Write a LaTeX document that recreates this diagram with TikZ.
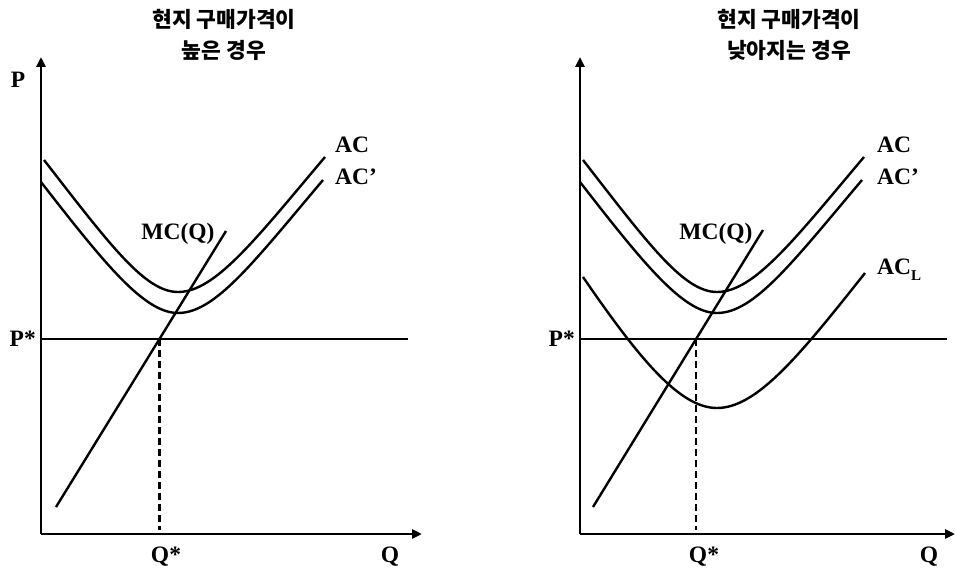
\documentclass[tikz,border=0pt]{standalone}
\usepackage{fontspec}
\setmainfont{Liberation Serif}
\newfontfamily\kr{Noto Sans CJK KR}
\usetikzlibrary{arrows.meta,positioning,intersections,calc}

\begin{document}
\begin{tikzpicture}[x=1pt,y=-1pt,
    axis/.style={line width=2.8pt,-{Triangle[length=10pt,width=9pt]}},
    curve/.style={line width=2.4pt},
    lbl/.style={font=\fontsize{23.5}{23.5}\selectfont\bfseries,inner sep=0pt},
    ttl/.style={font=\kr\bfseries\fontsize{21.5}{31}\selectfont,align=center,inner sep=0pt}]
  \useasboundingbox (0,0) rectangle (956,569);

  \coordinate (oL) at (41,534);
  \draw[axis] (oL) -- (41,57);
  \draw[axis] (oL) -- (422,534);
  \draw[curve,name path=pL] (41,339) -- (408,339);
  \draw[curve,name path=mcL] (56,507) -- (226,231);
  \draw[curve] (44,160) .. controls (110,245) and (145,292) .. (178,292)
    .. controls (215,292) and (255,240) .. (325,157);
  \draw[curve] (41,182) .. controls (107,267) and (145,313) .. (178,313)
    .. controls (215,313) and (253,263) .. (323,180);
  \path[name intersections={of=mcL and pL,by=eqL}];
  \draw[curve,dash pattern=on 7pt off 4pt] (eqL) -- ($(eqL |- oL)+(0,-4)$);
  \node[ttl] (tL) at (224,35) {현지 구매가격이\\높은 경우};
  \node[lbl] (pL) at (18,80) {P};
  \node[lbl,anchor=east] (psL) at (36,339) {P*};
  \node[lbl,anchor=base] (qsL) at (166,562) {Q*};
  \node[lbl,anchor=base] (qL) at (390,562) {Q};
  \node[lbl,anchor=base] (mcqL) at (178,240) {MC(Q)};
  \node[lbl,anchor=base west] (acL) at (335,153) {AC};
  \node[lbl,anchor=base west] (acpL) at (335,185) {AC’};

  \coordinate (oR) at (580,534);
  \draw[axis] (oR) -- (580,57);
  \draw[axis] (oR) -- (955,534);
  \draw[curve,name path=pR] (580,339) -- (947,339);
  \draw[curve,name path=mcR] (593,507) -- (763,230);
  \draw[curve] (583,160) .. controls (649,245) and (684,292) .. (717,292)
    .. controls (754,292) and (794,240) .. (864,157);
  \draw[curve] (580,182) .. controls (646,267) and (684,313) .. (717,313)
    .. controls (754,313) and (792,263) .. (862,180);
  \draw[curve] (583,277) .. controls (640,360) and (680,408) .. (717,408)
    .. controls (757,408) and (800,355) .. (865,273);
  \path[name intersections={of=mcR and pR,by=eqR}];
  \draw[curve,dash pattern=on 7pt off 4pt] (eqR) -- ($(eqR |- oR)+(0,-4)$);
  \node[ttl] (tR) at (789,35) {현지 구매가격이\\낮아지는 경우};
  \node[lbl,anchor=east] (psR) at (575,339) {P*};
  \node[lbl,anchor=base] (qsR) at (704,562) {Q*};
  \node[lbl,anchor=base] (qR) at (929,562) {Q};
  \node[lbl,anchor=base] (mcqR) at (716,240) {MC(Q)};
  \node[lbl,anchor=base west] (acR) at (877,153) {AC};
  \node[lbl,anchor=base west] (acpR) at (877,185) {AC’};
  \node[lbl,anchor=base west] (aclR) at (877,275) {AC\raisebox{-6pt}{\fontsize{15}{15}\selectfont L}};
\end{tikzpicture}
\end{document}
